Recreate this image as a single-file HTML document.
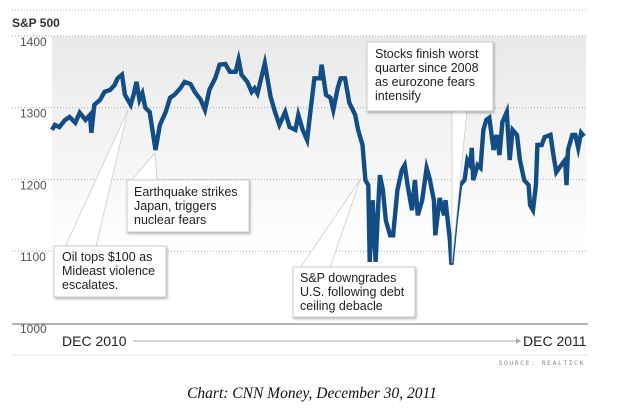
<!DOCTYPE html>
<html><head><meta charset="utf-8"><style>
html,body{margin:0;padding:0;background:#fff;}
svg{display:block;font-family:"Liberation Sans",sans-serif;}
</style></head><body>
<svg id="chart" width="624" height="412" viewBox="0 0 624 412">
<defs>
<linearGradient id="bg" x1="0" y1="0" x2="0" y2="1">
<stop offset="0" stop-color="#e9e9e9"/><stop offset="1" stop-color="#ffffff"/>
</linearGradient>
<filter id="sh" x="-10%" y="-10%" width="120%" height="130%"><feDropShadow dx="1" dy="1.5" stdDeviation="1.2" flood-color="#000" flood-opacity="0.3"/></filter>
</defs>
<rect x="52" y="36" width="534" height="220" fill="url(#bg)"/>
<line x1="12" y1="10" x2="588" y2="10" stroke="#bbb" stroke-dasharray="1,2"/>
<text x="12" y="27" font-size="12" font-weight="bold" fill="#333">S&amp;P 500</text>
<g id="grid"></g>
<g id="yticks"></g>
<line x1="12" y1="324" x2="588" y2="324" stroke="#888" stroke-width="1.2"/>
<path id="series" fill="none" stroke="#124d86" stroke-width="4.4" stroke-linejoin="miter" stroke-miterlimit="5"/>
<g font-size="12.5" fill="#222">
 <polygon points="65,247 96,247 128,110" fill="#fff" stroke="#ccc" stroke-width="0.8"/>
 <rect x="54" y="246" width="112" height="51" fill="#fff" stroke="#ccc" filter="url(#sh)"/>
 <text x="62" y="261">Oil tops $100 as</text><text x="62" y="275">Mideast violence</text><text x="62" y="289">escalates.</text>
 <polygon points="131,181 157,181 155,153" fill="#fff" stroke="#ccc" stroke-width="0.8"/>
 <rect x="127" y="180" width="122" height="52" fill="#fff" stroke="#ccc" filter="url(#sh)"/>
 <text x="134" y="196">Earthquake strikes</text><text x="134" y="210">Japan, triggers</text><text x="134" y="224">nuclear fears</text>
 <polygon points="300,268 330,268 360,180" fill="#fff" stroke="#ccc" stroke-width="0.8"/>
 <rect x="293" y="267" width="122" height="50" fill="#fff" stroke="#ccc" filter="url(#sh)"/>
 <text x="300" y="282">S&amp;P downgrades</text><text x="300" y="296">U.S. following debt</text><text x="300" y="310">ceiling debacle</text>
 <polygon points="452,110 467,110 452,263" fill="#fff" stroke="#ccc" stroke-width="0.8"/>
 <rect x="367" y="42" width="126" height="69" fill="#fff" stroke="#ccc" filter="url(#sh)"/>
 <text x="375" y="58">Stocks finish worst</text><text x="375" y="72">quarter since 2008</text><text x="375" y="86">as eurozone fears</text><text x="375" y="100">intensify</text>
</g>
<text x="20" y="333" font-size="12" fill="#555">1000</text>
<text x="62" y="346" font-size="14" fill="#222">DEC 2010</text>
<line x1="133" y1="341" x2="516" y2="341" stroke="#aaa" stroke-width="1"/>
<polygon points="516,338 521,341 516,344" fill="#aaa"/>
<text x="523" y="346" font-size="14" fill="#222">DEC 2011</text>
<line x1="12" y1="355" x2="588" y2="355" stroke="#e4e4e4"/>
<text x="585" y="365" font-size="6.5" fill="#888" text-anchor="end" letter-spacing="1.5" font-family="Liberation Mono, monospace">SOURCE: REALTICK</text>
<text x="312" y="398" font-size="15.5" font-style="italic" text-anchor="middle" fill="#111" font-family="Liberation Serif, serif">Chart: CNN Money, December 30, 2011</text>
</svg>
<script>
const days=[0,2,5,9,12,16,19,23,26,27,29,33,36,40,43,45,48,50,54,56,58,60,62,64,67,71,74,78,81,84,88,91,95,98,102,105,108,112,115,119,122,126,128,130,134,137,139,141,146,150,153,156,160,163,167,169,172,175,177,180,184,185,188,191,193,196,198,201,204,208,210,213,215,217,218,220,222,224,225,227,229,232,234,237,240,242,244,247,249,251,254,257,259,262,263,266,269,270,273,274,277,280,283,285,287,288,289,292,294,296,298,300,303,305,307,309,312,314,316,319,321,324,327,328,330,332,333,336,338,342,344,346,348,352,353,354,357,359,361,363,365];
const closes=[1269,1276,1273,1283,1287,1279,1293,1283,1290,1265,1304,1311,1322,1325,1332,1341,1346,1318,1304,1318,1336,1311,1320,1300,1294,1241,1276,1294,1314,1318,1327,1336,1333,1322,1311,1297,1325,1341,1360,1361,1350,1350,1367,1346,1336,1322,1327,1320,1362,1315,1294,1276,1294,1273,1269,1290,1269,1255,1290,1341,1341,1360,1318,1314,1297,1327,1341,1341,1307,1290,1269,1248,1199,1192,1085,1171,1085,1171,1206,1185,1143,1122,1122,1185,1213,1220,1192,1157,1199,1150,1171,1216,1202,1171,1122,1174,1150,1171,1115,1081,1143,1192,1199,1227,1220,1244,1199,1220,1216,1269,1283,1286,1241,1262,1234,1280,1294,1227,1269,1262,1227,1199,1192,1164,1157,1192,1248,1248,1259,1262,1234,1210,1216,1227,1192,1241,1262,1262,1244,1265,1260];
const yTicks=[1100,1200,1300,1400];
const NS='http://www.w3.org/2000/svg';
const xS=d=>52+d/365*532;
const yS=v=>36+(1400-v)*0.717;
const grid=document.getElementById('grid'),yt=document.getElementById('yticks');
yTicks.forEach(t=>{
 const l=document.createElementNS(NS,'line');
 
 
 l.setAttribute('x1',12);l.setAttribute('x2',588);l.setAttribute('y1',yS(t));l.setAttribute('y2',yS(t));
 l.setAttribute('stroke','#aaa');l.setAttribute('stroke-dasharray','1,2');
 grid.appendChild(l);
 const tx=document.createElementNS(NS,'text');
 
 
 tx.setAttribute('x',20);tx.setAttribute('y',yS(t)+10);tx.setAttribute('font-size','12');tx.setAttribute('fill','#555');
 tx.textContent=t;yt.appendChild(tx);
});
document.getElementById('series').setAttribute('d',days.map((d,i)=>(i?'L':'M')+xS(d).toFixed(1)+','+yS(closes[i]).toFixed(1)).join(''));
</script>
</body></html>
